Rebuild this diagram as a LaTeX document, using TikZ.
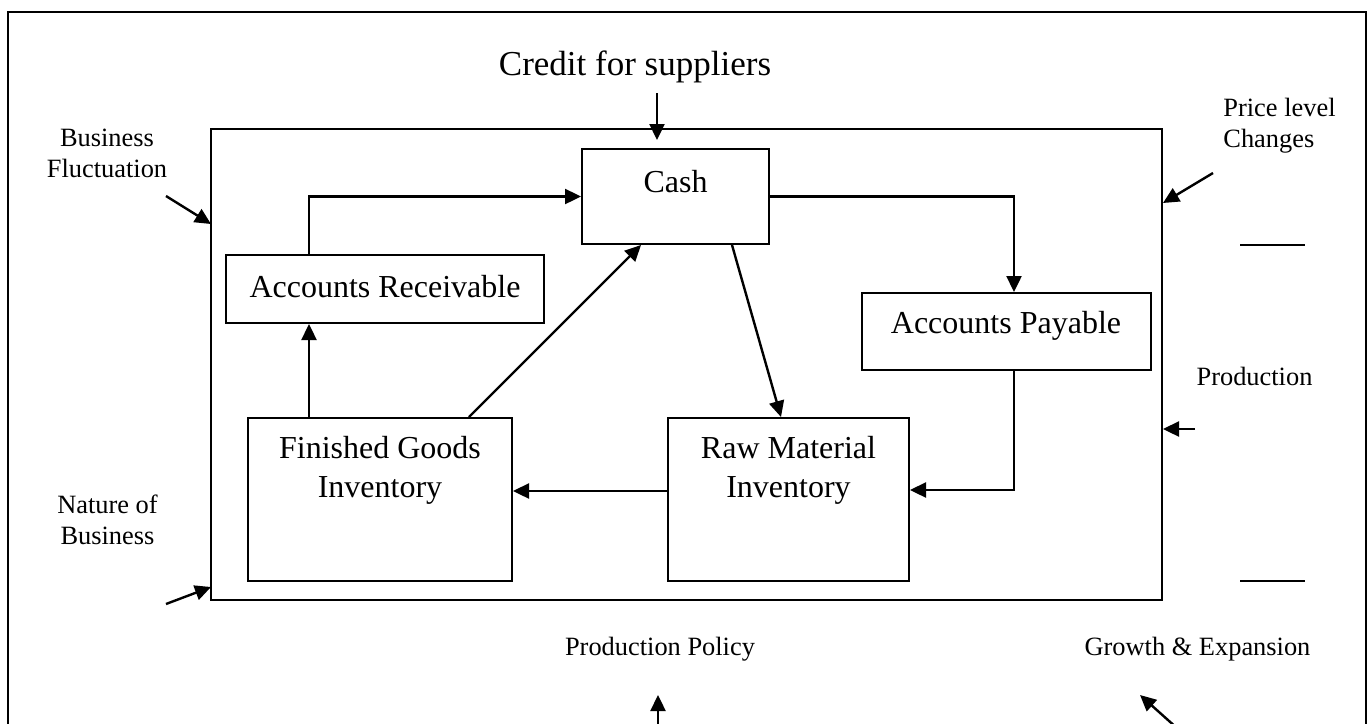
\documentclass[tikz,border=0pt]{standalone}
\usepackage{fontspec}
\setmainfont{Liberation Serif}
\usetikzlibrary{arrows.meta,calc}
\begin{document}
\begin{tikzpicture}[x=0.5pt,y=-0.5pt,
  box/.style={draw,line width=1pt,inner sep=0pt},
  big/.style={font=\fontsize{16}{19.5}\selectfont,align=center,inner sep=0pt},
  cred/.style={font=\fontsize{17.5}{20}\selectfont,inner sep=0pt},
  small/.style={font=\fontsize{13.2}{15.5}\selectfont,align=center,inner sep=0pt},
  arr/.style={line width=1.2pt,-{Triangle[length=8pt,width=7.5pt]}},
  ln/.style={line width=1pt}]
\useasboundingbox (0,0) rectangle (1370,723);
% outer frame
\draw[line width=1.3pt] (8,740) -- (8,12) -- (1366,12) -- (1366,740);
% environment box
\node[box, minimum width=475.5pt, minimum height=235.5pt] (env) at (686.5,364.5) {};
% inner boxes
\node[box, minimum width=93.5pt, minimum height=47.5pt] (cash) at (675.5,196.5) {};
\node[big, anchor=base] (cashT) at (675.5,192) {Cash};
\node[box, minimum width=159pt, minimum height=34pt] (ar) at (385,289) {};
\node[big, anchor=base] (arT) at (385,297) {Accounts Receivable};
\node[box, minimum width=144.5pt, minimum height=38.5pt] (ap) at (1006.5,331.5) {};
\node[big, anchor=base] (apT) at (1006,333) {Accounts Payable};
\node[box, minimum width=132pt, minimum height=81.5pt] (fg) at (380,499.5) {};
\node[big, anchor=north] (fgT) at (380,436.2) {Finished Goods\\Inventory};
\node[box, minimum width=120.5pt, minimum height=81.5pt] (rm) at (788.5,499.5) {};
\node[big, anchor=north] (rmT) at (788.5,436.2) {Raw Material\\Inventory};
% internal connectors
\draw[arr] ([xshift=42pt]ar.north west) |- (cash.west);
\draw[arr] ([xshift=31pt]fg.north west) -- ([xshift=42pt]ar.south west);
\draw[arr] ([xshift=111pt]fg.north west) -- ([xshift=30pt]cash.south west);
\draw[arr] ([xshift=75.5pt]cash.south west) -- ([xshift=57pt]rm.north west);
\draw[arr] (cash.east) -| ([xshift=76.5pt]ap.north west);
\draw[arr] ([xshift=76.5pt]ap.south west) |- ([yshift=4.75pt]rm.east);
\draw[arr] ([yshift=4.25pt]rm.west) -- ([yshift=4.25pt]fg.east);
% outside labels
\node[cred, anchor=base] (credit) at (635,75) {Credit for suppliers};
\node[small, anchor=north] (bf) at (107,128.7) {Business\\Fluctuation};
\node[small, anchor=north west, align=left] (plc) at (1223,98) {Price level\\Changes};
\node[small, anchor=base] (prod) at (1254.5,385) {Production};
\node[small, anchor=north] (nob) at (107.5,495) {Nature of\\Business};
\node[small, anchor=base] (pp) at (660,655) {Production Policy};
\node[small, anchor=base] (ge) at (1197.5,655) {Growth \& Expansion};
% outside arrows
\coordinate (c1) at (657,93);   \coordinate (c1e) at (657,140);
\coordinate (b1) at (166,196);  \coordinate (b1e) at (211,224);
\coordinate (p1) at (1213,173); \coordinate (p1e) at (1163,203);
\coordinate (d1) at (1195,429); \coordinate (d1e) at (1163,429);
\coordinate (n1) at (166,604);  \coordinate (n1e) at (211,587);
\coordinate (q1) at (658,730);  \coordinate (q1e) at (658,695);
\coordinate (g1) at (1178,729); \coordinate (g1e) at (1140,695);
\draw[arr] (c1) -- (c1e);
\draw[arr] (b1) -- (b1e);
\draw[arr] (p1) -- (p1e);
\draw[arr] (d1) -- (d1e);
\draw[arr] (n1) -- (n1e);
\draw[arr] (q1) -- (q1e);
\draw[arr] (g1) -- (g1e);
% blank lines
\coordinate (l1a) at (1240,245); \coordinate (l1b) at (1305,245);
\coordinate (l2a) at (1240,581); \coordinate (l2b) at (1305,581);
\draw[ln] (l1a) -- (l1b);
\draw[ln] (l2a) -- (l2b);
\end{tikzpicture}
\end{document}
